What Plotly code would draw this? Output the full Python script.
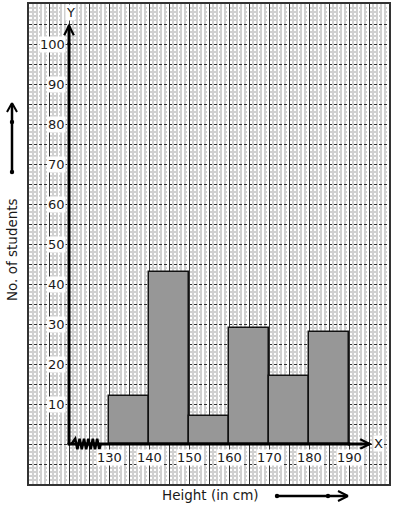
import plotly.graph_objects as go

# ---- data ----
class_lower = [130, 140, 150, 160, 170, 180]
class_width = 10
students = [12, 43, 7, 29, 17, 28]
x_tick_values = [130, 140, 150, 160, 170, 180, 190]
y_tick_values = [10, 20, 30, 40, 50, 60, 70, 80, 90, 100]

mids = [c + class_width / 2 for c in class_lower]

W, H = 394, 510
L, R, T, B = 29, 5, 4, 26
XR = [110, 200]
YR = [-10, 110]
FONT = "DejaVu Sans"

fig = go.Figure()
fig.add_trace(go.Bar(
    x=mids, y=students, width=class_width,
    marker=dict(color="#979797", line=dict(color="#111", width=1.5)),
    hoverinfo="skip",
))

def px2paper(px, py):
    return (px - L) / (W - L - R), (H - B - py) / (H - T - B)

shapes = []
# axes lines
shapes.append(dict(type="line", xref="x", yref="y", x0=120, y0=0, x1=120, y1=104.6,
                   line=dict(color="black", width=3)))
shapes.append(dict(type="line", xref="x", yref="y", x0=120, y0=0, x1=195.2, y1=0,
                   line=dict(color="black", width=3)))
# y arrow head
shapes.append(dict(type="path", xref="x", yref="y",
                   path="M 118.8,102.2 L 120,104.6 L 121.2,102.2",
                   line=dict(color="black", width=2.2)))
# x arrow head
shapes.append(dict(type="path", xref="x", yref="y",
                   path="M 192.8,1.2 L 195.2,0 L 192.8,-1.2",
                   line=dict(color="black", width=2.2)))
# zigzag
zz = "M 120.6,0"
xs = 121.0
for i in range(6):
    zz += f" L {xs + 0.55:.2f},1.3 L {xs + 1.1:.2f},-1.3"
    xs += 1.1
zz += f" L {xs + 0.3:.2f},0"
shapes.append(dict(type="path", xref="x", yref="y", path=zz,
                   line=dict(color="black", width=2.5)))
# dots on axes
for (dx, dy) in [(120, 0), (120, 100), (190, 0)]:
    shapes.append(dict(type="circle", xref="x", yref="y",
                       x0=dx - 0.45, x1=dx + 0.45, y0=dy - 0.45, y1=dy + 0.45,
                       fillcolor="black", line=dict(color="black", width=0)))

# outer arrows (paper coords)
def pline(p0, p1, w=2.5):
    a = px2paper(*p0); b = px2paper(*p1)
    return dict(type="line", xref="paper", yref="paper", x0=a[0], y0=a[1], x1=b[0], y1=b[1],
                line=dict(color="black", width=w))

def pdot(p, r=2.2):
    c = px2paper(*p)
    rx = r / (W - L - R); ry = r / (H - T - B)
    return dict(type="circle", xref="paper", yref="paper", x0=c[0] - rx, x1=c[0] + rx,
                y0=c[1] - ry, y1=c[1] + ry, fillcolor="black", line=dict(width=0))

shapes += [pline((12, 172), (12, 104)), pline((7, 112), (12, 103), 2), pline((17, 112), (12, 103), 2),
           pdot((12, 172)), pdot((12, 122))]
shapes += [pline((277, 496), (347, 496)), pline((338, 491), (348, 496), 2), pline((338, 501), (348, 496), 2),
           pdot((277, 496)), pdot((328, 496))]

annotations = []
for v in y_tick_values:
    annotations.append(dict(x=119.25, y=v, xref="x", yref="y", text=str(v), showarrow=False,
                            xanchor="right", yanchor="middle", bgcolor="white", borderpad=0,
                            font=dict(family=FONT, size=13, color="#1a1a1a")))
for v in x_tick_values:
    annotations.append(dict(x=v, y=-3.3, xref="x", yref="y", text=str(v), showarrow=False,
                            xanchor="center", yanchor="middle", bgcolor="white", borderpad=0,
                            font=dict(family=FONT, size=13, color="#1a1a1a")))
annotations.append(dict(x=120.25, y=108, xref="x", yref="y", text="Y", showarrow=False,
                        bgcolor="white", borderpad=0, font=dict(family=FONT, size=13, color="#1a1a1a")))
annotations.append(dict(x=197.3, y=0.2, xref="x", yref="y", text="X", showarrow=False,
                        bgcolor="white", borderpad=0, font=dict(family=FONT, size=13, color="#1a1a1a")))
ax, ay = px2paper(12, 250)
annotations.append(dict(x=ax, y=ay, xref="paper", yref="paper", text="No. of students",
                        textangle=-90, showarrow=False, xanchor="center", yanchor="middle",
                        font=dict(family=FONT, size=13.5, color="#1a1a1a")))
bx, by = px2paper(210, 495)
annotations.append(dict(x=bx, y=by, xref="paper", yref="paper", text="Height (in cm)",
                        showarrow=False, xanchor="center", yanchor="middle",
                        font=dict(family=FONT, size=13.5, color="#1a1a1a")))

axis_common = dict(showticklabels=False, ticks="", zeroline=False, showline=True, mirror=True,
                   linecolor="#333", linewidth=1.5, fixedrange=True, showgrid=True)

fig.update_layout(
    width=W, height=H, margin=dict(l=L, r=R, t=T, b=B, autoexpand=False),
    paper_bgcolor="white", plot_bgcolor="white",
    showlegend=False, bargap=0,
    xaxis=dict(range=XR, tick0=110, dtick=5, gridcolor="#333333", gridwidth=1.2,
               minor=dict(dtick=1, tick0=110, showgrid=True, gridcolor="#d0d0d0", gridwidth=1.5),
               **axis_common),
    yaxis=dict(range=YR, tick0=-10, dtick=5, griddash="3px,2px", gridcolor="#333333", gridwidth=1.3,
               minor=dict(dtick=1, tick0=-10, showgrid=True, gridcolor="#d0d0d0", gridwidth=1.5),
               **axis_common),
    shapes=shapes, annotations=annotations,
)

fig.write_html("out.html", config={"displayModeBar": False},
               post_script="document.body.style.margin='0';document.body.style.overflow='hidden';")
